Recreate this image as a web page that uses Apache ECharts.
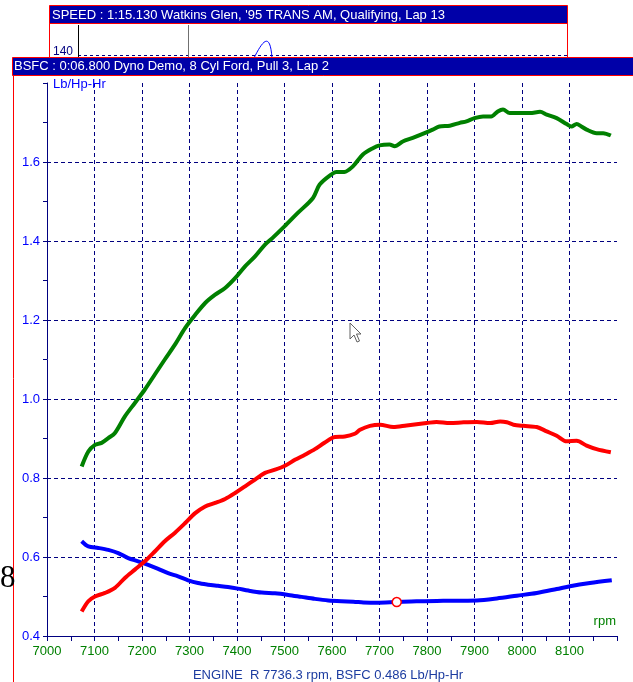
<!DOCTYPE html>
<html>
<head>
<meta charset="utf-8">
<script src="https://cdn.jsdelivr.net/npm/echarts@6/dist/echarts.min.js"></script>
<style>
html,body{margin:0;padding:0;background:#fff;}
#chart{width:633px;height:682px;}
</style>
</head>
<body>
<div id="chart"></div>
<script>
// ---- data ----
var xTicks = [7000, 7100, 7200, 7300, 7400, 7500, 7600, 7700, 7800, 7900, 8000, 8100];
var yTicks = [0.4, 0.6, 0.8, 1.0, 1.2, 1.4, 1.6];

var greenRpm = [7073, 7087, 7101, 7115, 7129, 7143, 7164, 7185, 7206, 7227, 7248, 7269, 7291, 7312, 7333, 7354, 7375, 7396, 7417, 7438, 7459, 7475, 7500, 7528, 7560, 7574, 7598, 7609, 7626, 7644, 7665, 7686, 7700, 7721, 7732, 7749, 7770, 7791, 7812, 7826, 7848, 7869, 7883, 7900, 7918, 7935, 7949, 7960, 7974, 7995, 8017, 8038, 8052, 8073, 8094, 8104, 8115, 8125, 8136, 8157, 8171, 8187];
var greenVal = [0.829, 0.867, 0.884, 0.889, 0.901, 0.914, 0.956, 0.990, 1.024, 1.062, 1.100, 1.137, 1.180, 1.213, 1.243, 1.264, 1.281, 1.306, 1.336, 1.361, 1.391, 1.408, 1.437, 1.471, 1.509, 1.543, 1.568, 1.575, 1.575, 1.589, 1.619, 1.635, 1.642, 1.644, 1.640, 1.652, 1.661, 1.671, 1.682, 1.690, 1.692, 1.699, 1.703, 1.711, 1.715, 1.715, 1.728, 1.733, 1.724, 1.724, 1.724, 1.727, 1.720, 1.711, 1.696, 1.690, 1.696, 1.690, 1.682, 1.673, 1.673, 1.667];

var redRpm = [7073, 7087, 7101, 7122, 7143, 7164, 7185, 7206, 7227, 7248, 7269, 7291, 7312, 7333, 7354, 7375, 7396, 7417, 7438, 7459, 7480, 7501, 7522, 7543, 7564, 7585, 7606, 7627, 7648, 7659, 7680, 7701, 7729, 7757, 7799, 7820, 7848, 7877, 7905, 7933, 7954, 7968, 7982, 8003, 8031, 8052, 8073, 8094, 8115, 8136, 8157, 8187];
var redVal = [0.462, 0.488, 0.500, 0.509, 0.522, 0.547, 0.568, 0.589, 0.614, 0.640, 0.661, 0.686, 0.711, 0.728, 0.737, 0.747, 0.762, 0.779, 0.796, 0.813, 0.821, 0.831, 0.846, 0.859, 0.873, 0.890, 0.904, 0.905, 0.912, 0.922, 0.932, 0.935, 0.929, 0.933, 0.939, 0.942, 0.939, 0.941, 0.942, 0.939, 0.943, 0.941, 0.935, 0.932, 0.929, 0.918, 0.907, 0.893, 0.894, 0.882, 0.873, 0.865];

var blueRpm = [7073, 7087, 7108, 7129, 7150, 7171, 7192, 7213, 7234, 7255, 7276, 7297, 7318, 7339, 7360, 7381, 7402, 7424, 7452, 7480, 7508, 7536, 7564, 7592, 7620, 7645, 7666, 7694, 7736, 7778, 7834, 7905, 7947, 7989, 8031, 8073, 8101, 8143, 8189];
var blueVal = [0.640, 0.627, 0.623, 0.618, 0.610, 0.597, 0.589, 0.580, 0.570, 0.559, 0.551, 0.541, 0.534, 0.530, 0.527, 0.524, 0.520, 0.515, 0.510, 0.508, 0.504, 0.499, 0.494, 0.490, 0.488, 0.487, 0.485, 0.484, 0.486, 0.488, 0.489, 0.490, 0.495, 0.502, 0.509, 0.519, 0.526, 0.534, 0.541];

var cursorRpm = [7736.3];
var cursorVal = [0.486];

var titleSpeed = "SPEED : 1:15.130 Watkins Glen, '95 TRANS AM, Qualifying, Lap 13";
var titleBsfc = "BSFC : 0:06.800 Dyno Demo, 8 Cyl Ford, Pull 3, Lap 2";
var footer = "ENGINE  R 7736.3 rpm, BSFC 0.486 Lb/Hp-Hr";

function pairs(xs, ys) { return xs.map(function (x, i) { return [x, ys[i]]; }); }

var chart = echarts.init(document.getElementById('chart'), null, {renderer: 'canvas'});
var NAVY = '#000080';
var FONT = '"Liberation Sans", Arial, sans-serif';

var option = {
  animation: false,
  backgroundColor: '#ffffff',
  grid: {left: 47, right: 16, top: 83, bottom: 46, containLabel: false},
  xAxis: {
    type: 'value', min: 7000, max: 8200, interval: 100,
    axisLine: {show: true, lineStyle: {color: NAVY, width: 1}},
    axisTick: {show: true, length: 5, lineStyle: {color: NAVY}},
    minorTick: {show: true, splitNumber: 2, length: 5, lineStyle: {color: NAVY}},
    axisLabel: {
      color: '#008000', fontFamily: FONT, fontSize: 13, margin: 9,
      showMaxLabel: false,
      formatter: function (v) { return xTicks.indexOf(v) >= 0 ? String(v) : ''; }
    },
    splitLine: {show: true, showMinLine: false, showMaxLine: false,
      lineStyle: {color: NAVY, type: [4, 3], width: 1}}
  },
  yAxis: {
    type: 'value', min: 0.4, max: 1.8, interval: 0.2,
    axisLine: {show: true, lineStyle: {color: NAVY, width: 1}},
    axisTick: {show: true, length: 4, lineStyle: {color: NAVY}},
    minorTick: {show: true, splitNumber: 2, length: 4, lineStyle: {color: NAVY}},
    axisLabel: {
      color: '#0000ff', fontFamily: FONT, fontSize: 13, margin: 7,
      showMaxLabel: false,
      formatter: function (v) {
        var r = Math.round(v * 10) / 10;
        return yTicks.indexOf(r) >= 0 ? r.toFixed(1) : '';
      }
    },
    splitLine: {show: true, showMinLine: false, showMaxLine: false,
      lineStyle: {color: NAVY, type: [4, 3], width: 1}}
  },
  series: [
    {type: 'line', data: pairs(greenRpm, greenVal), showSymbol: false, smooth: 0.3,
      lineStyle: {color: '#008000', width: 4}, itemStyle: {color: '#008000'}, z: 3},
    {type: 'line', data: pairs(blueRpm, blueVal), showSymbol: false, smooth: 0.3,
      lineStyle: {color: '#0000ff', width: 4}, itemStyle: {color: '#0000ff'}, z: 3},
    {type: 'line', data: pairs(redRpm, redVal), showSymbol: false, smooth: 0.3,
      lineStyle: {color: '#ff0000', width: 4}, itemStyle: {color: '#ff0000'}, z: 4},
    {type: 'scatter', data: pairs(cursorRpm, cursorVal), symbol: 'circle', symbolSize: 9,
      itemStyle: {color: '#ffffff', borderColor: '#ff0000', borderWidth: 1.5, opacity: 1}, z: 6}
  ],
  graphic: [
    // top (SPEED) window, partially hidden
    {type: 'rect', shape: {x: 49.5, y: 23.5, width: 518, height: 40}, style: {fill: '#ffffff', stroke: '#ff0000', lineWidth: 1}, z: 1},
    {type: 'line', shape: {x1: 78, y1: 55.5, x2: 567, y2: 55.5}, style: {stroke: NAVY, lineWidth: 1, lineDash: [3, 3]}, z: 2},
    {type: 'line', shape: {x1: 78.5, y1: 25, x2: 78.5, y2: 57}, style: {stroke: '#000000', lineWidth: 1}, z: 2},
    {type: 'line', shape: {x1: 188.5, y1: 25, x2: 188.5, y2: 57}, style: {stroke: '#707070', lineWidth: 1}, z: 2},
    {type: 'bezierCurve', shape: {x1: 254, y1: 58, x2: 272, y2: 58, cpx1: 262, cpy1: 42, cpx2: 270, cpy2: 30}, style: {stroke: '#0000ff', lineWidth: 1, fill: null}, z: 2},
    {type: 'text', x: 53, y: 58, style: {text: '140', fill: NAVY, font: '12px ' + FONT, textVerticalAlign: 'bottom'}, z: 2},
    {type: 'rect', shape: {x: 49.5, y: 5.5, width: 518, height: 18}, style: {fill: '#0000a8', stroke: '#ff0000', lineWidth: 1}, z: 3},
    {type: 'text', x: 52, y: 15, style: {text: titleSpeed, fill: '#ffffff', font: '13px ' + FONT, textVerticalAlign: 'middle'}, z: 4},
    // BSFC window frame
    {type: 'line', shape: {x1: 13.5, y1: 75, x2: 13.5, y2: 682}, style: {stroke: '#ff0000', lineWidth: 1}, z: 5},
    {type: 'rect', shape: {x: 12.5, y: 57.5, width: 622, height: 18}, style: {fill: '#0000a8', stroke: '#ff0000', lineWidth: 1}, z: 5},
    {type: 'text', x: 14, y: 66.5, style: {text: titleBsfc, fill: '#ffffff', font: '13px ' + FONT, textVerticalAlign: 'middle'}, z: 6},
    // units
    {type: 'text', x: 53, y: 84, style: {text: 'Lb/Hp-Hr', fill: '#0000ff', font: '13px ' + FONT, textVerticalAlign: 'middle'}, z: 6},
    {type: 'text', x: 616, y: 621, style: {text: 'rpm', fill: '#008000', font: '13px ' + FONT, textAlign: 'right', textVerticalAlign: 'middle'}, z: 6},
    {type: 'text', x: 328, y: 675, style: {text: footer, fill: '#1c3ca0', font: '13px ' + FONT, textAlign: 'center', textVerticalAlign: 'middle'}, z: 6},
    {type: 'text', x: 0, y: 579, style: {text: '8', fill: '#000000', font: '31px "Liberation Serif", "DejaVu Serif", serif', textVerticalAlign: 'middle'}, z: 6},
    // mouse pointer
    {type: 'polygon', shape: {points: [[350, 323], [350, 339], [354, 335], [357, 342], [359.5, 341], [356.5, 334], [361, 334]]},
      style: {fill: '#ffffff', stroke: '#606060', lineWidth: 1}, z: 7}
  ]
};
chart.setOption(option);
</script>
</body>
</html>
